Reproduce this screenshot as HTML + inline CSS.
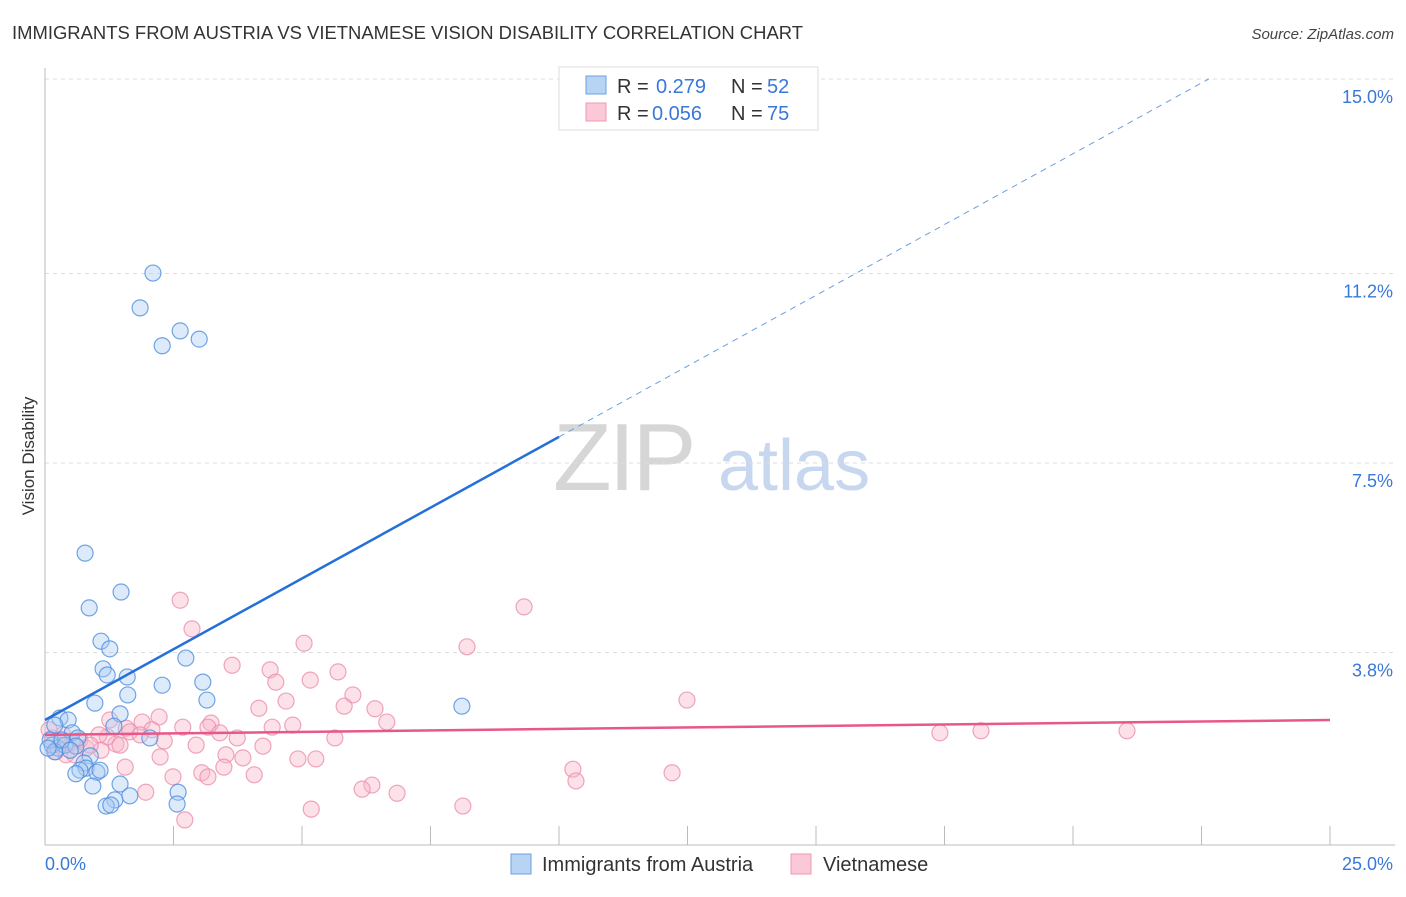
<!DOCTYPE html>
<html><head><meta charset="utf-8"><style>
body{margin:0;background:#fff;font-family:"Liberation Sans",sans-serif;}
svg text{font-family:"Liberation Sans",sans-serif;}
</style></head><body>
<svg id="chart" width="1406" height="892" viewBox="0 0 1406 892">
<text x="12" y="39" font-size="18" fill="#333" textLength="791" lengthAdjust="spacingAndGlyphs">IMMIGRANTS FROM AUSTRIA VS VIETNAMESE VISION DISABILITY CORRELATION CHART</text>
<text x="1394" y="39" font-size="15" fill="#444" font-style="italic" text-anchor="end">Source: ZipAtlas.com</text>
<text transform="translate(34,456) rotate(-90)" font-size="17" fill="#333" text-anchor="middle">Vision Disability</text>
<g>
<text x="553" y="490" font-size="96" fill="#d6d6d6" font-family="Liberation Serif" letter-spacing="-3">ZIP</text>
<text x="718" y="490" font-size="72" fill="#c6d7ef">atlas</text>
</g>
<g id="grid"></g>
<g id="axes"></g>
<g id="marks"></g>
<g>
<rect x="559" y="67" width="259" height="63" fill="#fff" stroke="#ddd"/>
<rect x="586" y="76" width="20" height="18" fill="#b8d4f5" stroke="#6a9fe0"/>
<text x="617" y="93" font-size="20" fill="#333">R =</text>
<text x="656" y="93" font-size="20" fill="#3a78d8">0.279</text>
<text x="731" y="93" font-size="20" fill="#333">N =</text>
<text x="767" y="93" font-size="20" fill="#3a78d8">52</text>
<rect x="586" y="103" width="20" height="18" fill="#fbc8d8" stroke="#ee9ab5"/>
<text x="617" y="120" font-size="20" fill="#333">R =</text>
<text x="652" y="120" font-size="20" fill="#3a78d8">0.056</text>
<text x="731" y="120" font-size="20" fill="#333">N =</text>
<text x="767" y="120" font-size="20" fill="#3a78d8">75</text>
</g>
<g>
<rect x="511" y="854" width="20" height="20" fill="#b8d4f5" stroke="#6a9fe0"/>
<text x="542" y="871" font-size="20" fill="#333">Immigrants from Austria</text>
<rect x="791" y="854" width="20" height="20" fill="#fbc8d8" stroke="#ee9ab5"/>
<text x="823" y="871" font-size="20" fill="#333">Vietnamese</text>
</g>
</svg>
<script>
const yTicks=[15.0,11.2,7.5,3.8];
const yTickLabels=["15.0%","11.2%","7.5%","3.8%"];
const xTickVals=[0,2.5,5,7.5,10,12.5,15,17.5,20,22.5,25];
const xEndLabels=["0.0%","25.0%"];
const blueX=[2.10,1.85,2.63,2.28,3.00,0.78,1.48,0.86,1.09,1.26,1.13,1.21,1.60,2.74,2.28,1.61,3.07,0.97,3.15,8.11,1.46,1.34,2.04,0.29,0.45,0.19,0.53,0.64,0.14,0.25,0.39,0.10,0.60,0.88,0.76,0.80,0.68,0.60,1.01,0.93,1.46,1.65,1.36,1.19,2.59,2.57,0.19,0.33,0.06,0.49,1.07,1.28];
const blueY=[11.21,10.53,10.08,9.79,9.92,5.74,4.98,4.67,4.02,3.87,3.48,3.36,3.32,3.69,3.16,2.97,3.22,2.81,2.87,2.75,2.60,2.36,2.13,2.52,2.48,2.38,2.23,2.13,1.99,1.93,1.99,2.09,1.97,1.78,1.64,1.54,1.50,1.43,1.46,1.19,1.23,1.00,0.92,0.80,1.07,0.84,1.86,2.09,1.93,1.89,1.50,0.82];
const pinkX=[2.63,9.32,2.86,5.04,8.21,3.64,4.38,5.70,4.49,5.16,4.69,5.99,12.49,4.16,5.82,6.42,6.65,3.23,4.82,4.42,2.22,1.58,1.89,2.08,1.65,2.68,3.17,3.40,3.74,2.32,1.38,1.21,1.05,1.46,1.09,0.68,0.80,0.53,0.29,0.14,0.21,0.41,2.94,4.24,5.64,17.41,18.21,21.05,3.52,3.85,2.24,4.92,5.27,1.56,3.48,3.05,4.07,2.49,3.17,10.27,10.33,12.20,1.96,6.36,6.17,6.85,8.13,5.18,2.72,0.08,0.35,0.88,0.58,1.85,1.26];
const pinkY=[4.82,4.69,4.26,3.98,3.91,3.55,3.46,3.42,3.22,3.26,2.85,2.97,2.87,2.71,2.75,2.70,2.44,2.42,2.38,2.34,2.54,2.32,2.44,2.29,2.25,2.34,2.34,2.23,2.13,2.07,2.01,2.15,2.19,1.99,1.89,2.09,1.93,2.05,1.99,2.13,1.86,1.80,1.99,1.97,2.13,2.23,2.27,2.27,1.80,1.74,1.76,1.72,1.72,1.56,1.56,1.45,1.41,1.37,1.37,1.52,1.29,1.45,1.07,1.21,1.13,1.05,0.80,0.74,0.53,2.29,2.19,1.99,1.80,2.19,2.48];
const blueTrend=[2.48,0.553]; // intercept, slope
const pinkTrend=[2.19,0.0116];
const NS="http://www.w3.org/2000/svg";
const X=v=>45+v*(1285/25);
const Y=v=>847-v*(192/3.75);
function mk(tag,attrs,parent){const e=document.createElementNS(NS,tag);for(const k in attrs)e.setAttribute(k,attrs[k]);parent.appendChild(e);return e;}
const grid=document.getElementById('grid'),axes=document.getElementById('axes'),marks=document.getElementById('marks');
yTicks.forEach((t,i)=>{
 const l=mk('line',{x1:45,x2:1395,y1:Y(t),y2:Y(t),stroke:'#ddd','stroke-dasharray':'4,4'},grid);
 
 
 const tx=mk('text',{x:1393,y:Y(t)+24,'font-size':18,fill:'#3a78d8','text-anchor':'end'},axes);
 tx.textContent=yTickLabels[i];
 
 
});
const ya=mk('line',{x1:45,x2:45,y1:68,y2:845,stroke:'#bbb'},axes);


const xa=mk('line',{x1:45,x2:1395,y1:845,y2:845,stroke:'#bbb'},axes);


xTickVals.forEach(v=>{
 const t=mk('line',{x1:X(v),x2:X(v),y1:826,y2:845,stroke:'#bbb'},axes);
 
 
});
[[0,'start',45],[25,'end',1393]].forEach((a,i)=>{
 const t=mk('text',{x:a[2],y:870,'font-size':18,fill:'#3a78d8','text-anchor':a[1]},axes);
 t.textContent=xEndLabels[i];
 
 
});
function dots(xs,ys,fill,stroke,name){
 xs.forEach((x,i)=>{
  const c=mk('circle',{cx:X(x),cy:Y(ys[i]),r:8,fill:fill,'fill-opacity':0.4,stroke:stroke,'stroke-width':1.2,'stroke-opacity':0.8},marks);
  
  
 });
}
dots(pinkX,pinkY,'#f7b3c8','#ec8fae','vietnamese-point');
dots(blueX,blueY,'#a9cbf2','#4f8fe0','austria-point');
const pl=mk('line',{x1:X(0),y1:Y(pinkTrend[0]),x2:X(25),y2:Y(pinkTrend[0]+25*pinkTrend[1]),stroke:'#e8578a','stroke-width':2.5},marks);


const bl=mk('line',{x1:X(0),y1:Y(blueTrend[0]),x2:X(10),y2:Y(blueTrend[0]+10*blueTrend[1]),stroke:'#2470d8','stroke-width':2.5},marks);


const xe=(15-blueTrend[0])/blueTrend[1];
const bd=mk('line',{x1:X(10),y1:Y(blueTrend[0]+10*blueTrend[1]),x2:X(xe),y2:Y(15),stroke:'#6a9fe0','stroke-width':1,'stroke-dasharray':'6,5'},marks);


</script>
</body></html>
